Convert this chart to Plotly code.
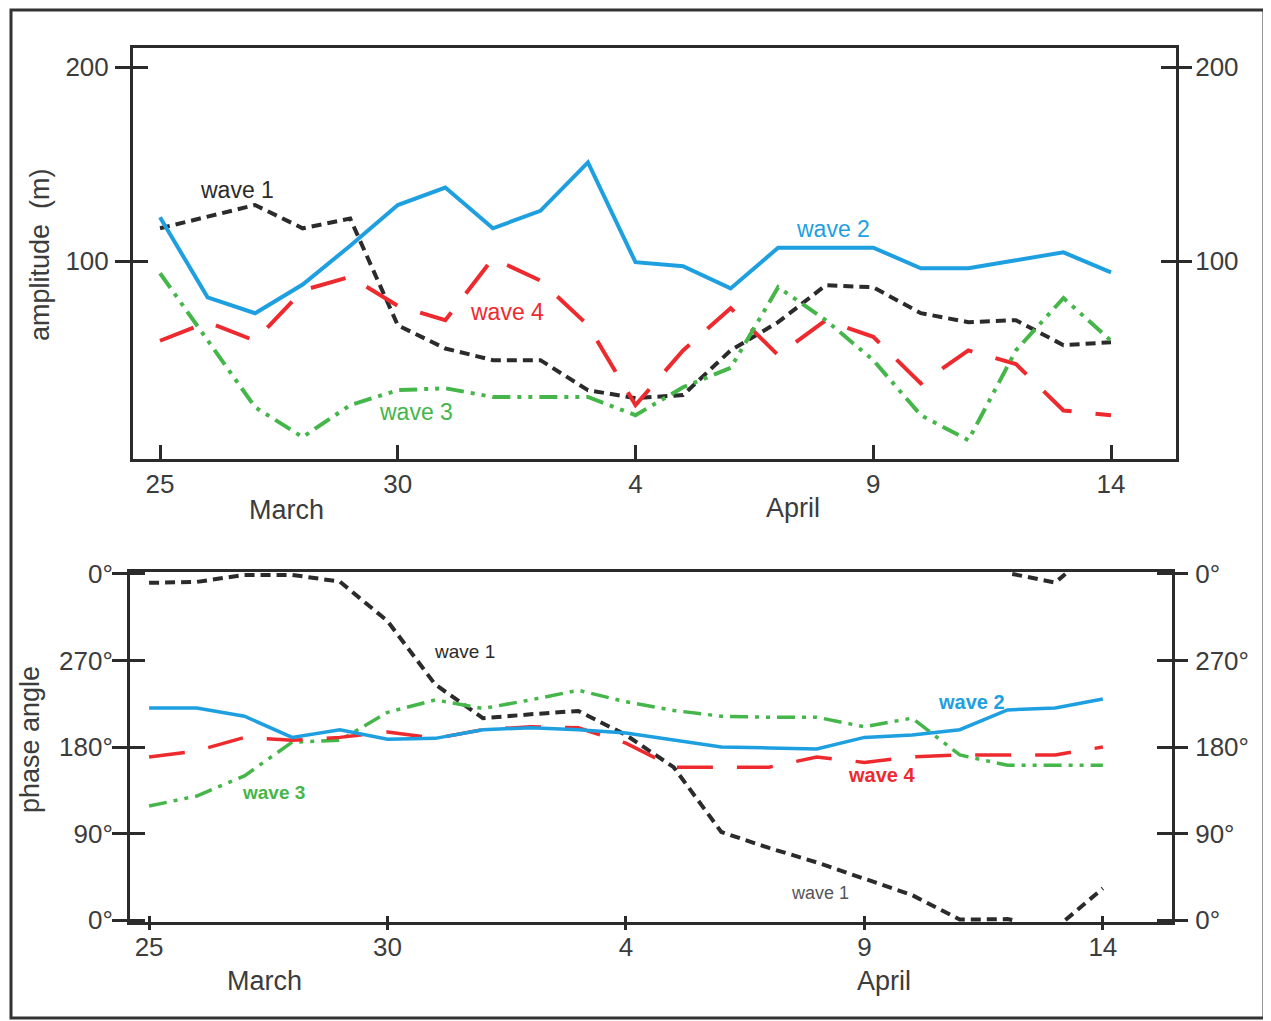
import plotly.graph_objects as go

# ---------------- data ----------------
days = list(range(21))  # 25 March .. 14 April
x_tickvals = [0, 5, 10, 15, 20]
x_ticktext = ["25", "30", "4", "9", "14"]

amp_wave1 = [117, 123, 129, 117, 122, 67, 55, 49, 49, 33.5, 29.4, 31, 54, 68.6, 87.6, 86.6, 73.2, 68.6, 69.6, 56.7, 58.2]
amp_wave2 = [122.7, 81.4, 73.2, 88, 108, 129, 138, 117, 126, 151, 99.5, 97.4, 86, 107, 107, 107, 96.4, 96.4, 100.5, 104.6, 94.3]
amp_wave3 = [93.8, 59, 24.7, 9.3, 25.8, 33.5, 34.5, 30, 30, 30, 20.6, 35, 45, 86.6, 69.6, 49, 20.6, 7.7, 54, 81, 59]
amp_wave4 = [59, 68.6, 59, 85, 92, 77, 69.6, 101.5, 90, 67, 25.8, 54, 75.8, 51.5, 69.6, 61, 37, 54, 47, 23, 20.6]

ph_wave1 = [350.7, 351.7, 359, 359, 352, 311, 245, 210, 214, 217.5, 192.5, 159, 91.6, 75, 60, 42.7, 26, 0.5, 1, 351, 33]
ph_wave2 = [220.6, 220.6, 212, 190, 198, 188, 189, 198, 200, 198, 194.6, 187, 180, 179, 178, 190, 192.5, 198, 218.5, 220.6, 230]
ph_wave3 = [118.6, 129, 150, 185, 187, 216, 229, 220, 229, 239, 227, 218, 212, 211, 211, 201, 210, 171.7, 161, 161, 161]
ph_wave4 = [169.6, 176, 190, 187, 190, 195.6, 189, 198, 201, 200, 184, 159, 159, 159, 169.6, 164, 169.6, 171.7, 171.7, 171.7, 180]

amp_tickvals = [100, 200]
ph_tickvals = [0, 90, 180, 270, 360]
ph_ticktext = ["0°", "90°", "180°", "270°", "0°"]

# ---------------- styles ----------------
C1, C2, C3, C4 = "#2b2b2b", "#1e9fe0", "#45b649", "#ee2a2e"
D1 = "10px,6px"
D3 = "18px,7px,4px,7px,4px,7px"
D4 = "36px,24px"
FONT = "Liberation Sans, Arial, sans-serif"
TXT = "#3c3c3c"
W, H = 1271, 1021
OFF = 8  # page body margin


def PX(p):
    return (p - OFF) / W


def PY(p):
    return 1 - (p - OFF) / H


def wrap_phase(xs, ys, period=360.0):
    """Split a phase series where it wraps across 0/360."""
    ox, oy = [xs[0]], [ys[0]]
    for i in range(1, len(xs)):
        x0, y0, x1, y1 = xs[i - 1], ys[i - 1], xs[i], ys[i]
        d = ((y1 - y0 + 180) % 360) - 180
        yu = y0 + d
        if yu > period:
            t = (period - y0) / d
            xc = x0 + t * (x1 - x0)
            ox += [xc, None, xc]
            oy += [period, None, 0]
        elif yu < 0:
            t = (0 - y0) / d
            xc = x0 + t * (x1 - x0)
            ox += [xc, None, xc]
            oy += [0, None, period]
        ox.append(x1)
        oy.append(y1)
    return ox, oy


fig = go.Figure()

# top panel: amplitude
fig.add_trace(go.Scatter(x=days, y=amp_wave1, mode="lines", line=dict(color=C1, width=4, dash=D1), xaxis="x", yaxis="y"))
fig.add_trace(go.Scatter(x=days, y=amp_wave4, mode="lines", line=dict(color=C4, width=4, dash=D4), xaxis="x", yaxis="y"))
fig.add_trace(go.Scatter(x=days, y=amp_wave3, mode="lines", line=dict(color=C3, width=4, dash=D3), xaxis="x", yaxis="y"))
fig.add_trace(go.Scatter(x=days, y=amp_wave2, mode="lines", line=dict(color=C2, width=4), xaxis="x", yaxis="y"))

# bottom panel: phase
w1x, w1y = wrap_phase(days, ph_wave1)
fig.add_trace(go.Scatter(x=w1x, y=w1y, mode="lines", line=dict(color=C1, width=4, dash=D1), xaxis="x2", yaxis="y2", connectgaps=False))
fig.add_trace(go.Scatter(x=days, y=ph_wave3, mode="lines", line=dict(color=C3, width=3.5, dash=D3), xaxis="x2", yaxis="y2"))
fig.add_trace(go.Scatter(x=days, y=ph_wave4, mode="lines", line=dict(color=C4, width=3.5, dash=D4), xaxis="x2", yaxis="y2"))
fig.add_trace(go.Scatter(x=days, y=ph_wave2, mode="lines", line=dict(color=C2, width=3.5), xaxis="x2", yaxis="y2"))

# invisible helper traces so overlay axes (for crossing ticks / right labels) render
for xa, ya, yy in [("x", "y3", amp_wave2), ("x", "y5", amp_wave2), ("x2", "y4", ph_wave2), ("x2", "y6", ph_wave2), ("x3", "y2", ph_wave2)]:
    fig.add_trace(go.Scatter(x=days, y=yy, mode="lines", opacity=0, line=dict(width=0), xaxis=xa, yaxis=ya, hoverinfo="skip"))

AX = dict(showgrid=False, zeroline=False, linecolor="#2b2b2b", linewidth=3, tickcolor="#2b2b2b",
          tickfont=dict(family=FONT, size=26, color=TXT), automargin=False)

top_x = [PX(133), PX(1176)]
top_y = [PY(459), PY(48)]
bot_x = [PX(130), PX(1172)]
bot_y = [PY(922), PY(572)]
xr_top = [-0.568, 21.367]
yr_top = [-2, 210]
xr_bot = [-0.4, 21.45]
yr_bot = [-2, 362]

fig.update_layout(
    width=W, height=H, margin=dict(l=0, r=0, t=0, b=0),
    paper_bgcolor="white", plot_bgcolor="white", showlegend=False,
    xaxis=dict(AX, domain=top_x, range=xr_top, anchor="y", showline=True, mirror=True,
               ticks="inside", ticklen=14, tickwidth=3, tickvals=x_tickvals, ticktext=x_ticktext,
               ticklabelstandoff=0),
    yaxis=dict(AX, domain=top_y, range=yr_top, anchor="x", showline=True, mirror=True,
               ticks="outside", ticklen=15, tickwidth=3, tickvals=amp_tickvals, ticklabelstandoff=1),
    yaxis3=dict(AX, range=yr_top, overlaying="y", anchor="x", side="right", showline=False,
                ticks="outside", ticklen=15, tickwidth=3, tickvals=amp_tickvals, ticklabelstandoff=-2),
    yaxis5=dict(AX, range=yr_top, overlaying="y", anchor="x", showline=False, mirror="ticks",
                ticks="inside", ticklen=15, tickwidth=3, tickvals=amp_tickvals, showticklabels=False),
    xaxis2=dict(AX, domain=bot_x, range=xr_bot, anchor="y2", showline=True, mirror=True,
                ticks="outside", ticklen=5, tickwidth=3, tickvals=x_tickvals, ticktext=x_ticktext,
                ticklabelstandoff=-5),
    xaxis3=dict(AX, domain=bot_x, range=xr_bot, anchor="y2", overlaying="x2", showline=False,
                ticks="inside", ticklen=6, tickwidth=3, tickvals=x_tickvals, showticklabels=False),
    yaxis2=dict(AX, domain=bot_y, range=yr_bot, anchor="x2", showline=True, mirror=True,
                ticks="outside", ticklen=15, tickwidth=3, tickvals=ph_tickvals, ticktext=ph_ticktext,
                ticklabelstandoff=-6),
    yaxis4=dict(AX, range=yr_bot, overlaying="y2", anchor="x2", side="right", showline=False,
                ticks="outside", ticklen=15, tickwidth=3, tickvals=ph_tickvals, ticktext=ph_ticktext,
                ticklabelstandoff=2),
    yaxis6=dict(AX, range=yr_bot, overlaying="y2", anchor="x2", showline=False, mirror="ticks",
                ticks="inside", ticklen=15, tickwidth=3, tickvals=ph_tickvals, showticklabels=False),
)

ann = []


def lab(text, x, y, color, size, xref, yref, angle=0):
    ann.append(dict(text=text, x=x, y=y, xref=xref, yref=yref, showarrow=False, textangle=angle,
                    font=dict(family=FONT, size=size, color=color), xanchor="center", yanchor="middle"))


# top labels
lab("wave 1", 1.62, 137, C1, 23, "x", "y")
lab("wave 2", 14.15, 116.5, C2, 23, "x", "y")
lab("wave 4", 7.30, 73.7, C4, 23, "x", "y")
lab("wave 3", 5.38, 22.2, C3, 23, "x", "y")
lab("March", 2.65, PY(510), TXT, 27, "x", "paper")
lab("April", 13.31, PY(508), TXT, 27, "x", "paper")
lab("amplitude  (m)", PX(40), PY(255), TXT, 27, "paper", "paper", angle=-90)

# bottom labels
lab("wave 1", 6.62, 278.9, C1, 19, "x2", "y2")
lab("<b>wave 2</b>", 17.25, 226.8, C2, 20, "x2", "y2")
lab("<b>wave 4</b>", 15.35, 150.9, C4, 20, "x2", "y2")
lab("<b>wave 3</b>", 2.60, 132.2, C3, 19, "x2", "y2")
lab("wave 1", 14.07, 28.1, "#555555", 18, "x2", "y2")
lab("March", 2.43, PY(981), TXT, 27, "x2", "paper")
lab("April", 15.41, PY(981), TXT, 27, "x2", "paper")
lab("phase angle", PX(30), PY(740), TXT, 27, "paper", "paper", angle=-90)

fig.update_layout(annotations=ann)

# outer frame
fig.add_shape(type="rect", xref="paper", yref="paper", x0=PX(11), x1=PX(1264), y0=PY(1018), y1=PY(10),
              line=dict(color="#333333", width=3), fillcolor="rgba(0,0,0,0)")

fig.write_html("out.html")
